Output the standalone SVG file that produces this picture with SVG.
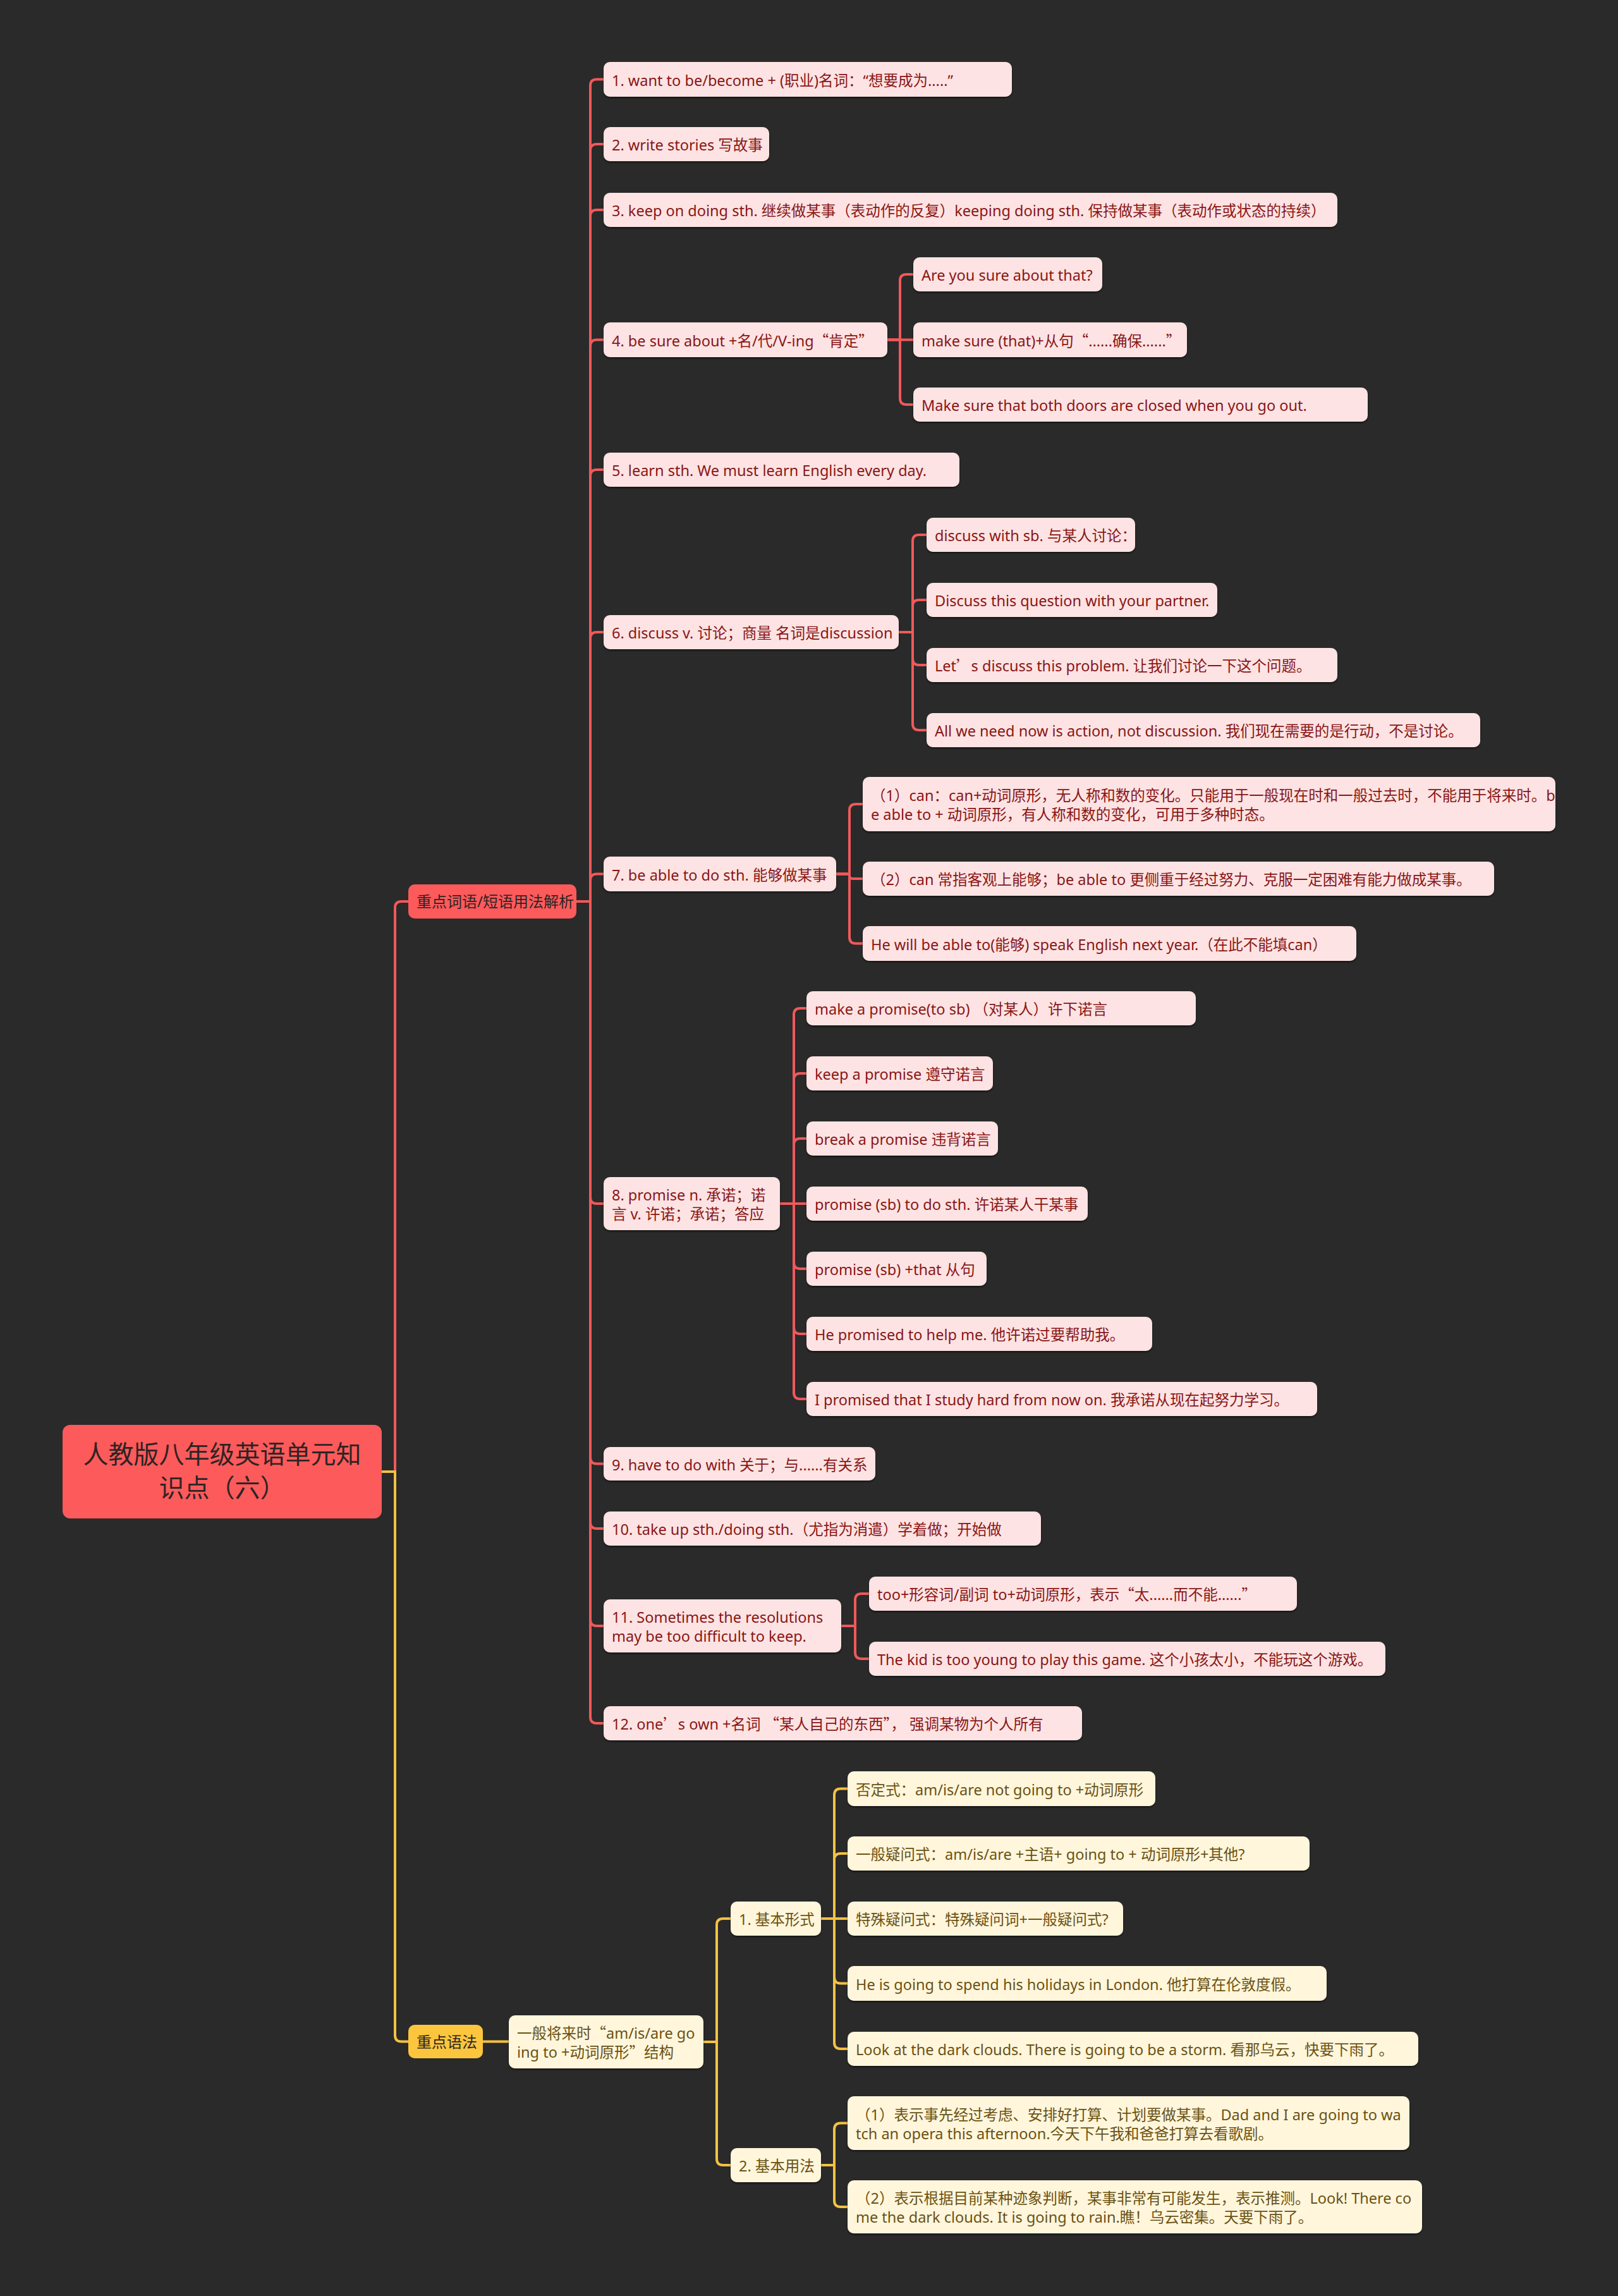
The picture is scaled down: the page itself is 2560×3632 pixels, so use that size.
<svg xmlns="http://www.w3.org/2000/svg" width="2560" height="3632" viewBox="0 0 2560 3632">
<defs>
<filter id="sh" x="-5%" y="-20%" width="110%" height="150%">
<feDropShadow dx="0" dy="2" stdDeviation="1.5" flood-color="#000" flood-opacity="0.55"/>
</filter>
<style>
text{font-family:"Noto Sans","Noto Sans CJK SC",sans-serif;}
.q{font-family:"Noto Sans CJK SC",sans-serif;}
.pn{fill:#fde3e3;filter:url(#sh);}
.pt{fill:#8a1616;font-size:23.5px;}
.yn{fill:#fff6dc;filter:url(#sh);}
.yt{fill:#6b5212;font-size:23.5px;}
.rn{fill:#fd5a5b;}
.bn{fill:#fbc63d;}
.bt{fill:#2d2424;font-size:24px;}
.rl{fill:none;stroke:#f0595b;stroke-width:4;}
.yl{fill:none;stroke:#f4c242;stroke-width:4;}
</style>
</defs>
<rect x="0" y="0" width="2560" height="3632" fill="#2a2a2a"/>

<g id="connectors">
<g class="rl">
<path d="M604 2328 H625 V1436 Q625 1426 635 1426 H646"/>
<path d="M912 1426 H934 V135.5 Q934 125.5 944 125.5 H955"/>
<path d="M912 1426 H934 V238 Q934 228 944 228 H955"/>
<path d="M912 1426 H934 V342 Q934 332 944 332 H955"/>
<path d="M912 1426 H934 V547.5 Q934 537.5 944 537.5 H955"/>
<path d="M912 1426 H934 V753 Q934 743 944 743 H955"/>
<path d="M912 1426 H934 V1010 Q934 1000 944 1000 H955"/>
<path d="M912 1426 H934 V1392.5 Q934 1382.5 944 1382.5 H955"/>
<path d="M912 1426 H934 V1894 Q934 1904 944 1904 H955"/>
<path d="M912 1426 H934 V2305.5 Q934 2315.5 944 2315.5 H955"/>
<path d="M912 1426 H934 V2408 Q934 2418 944 2418 H955"/>
<path d="M912 1426 H934 V2562 Q934 2572 944 2572 H955"/>
<path d="M912 1426 H934 V2716 Q934 2726 944 2726 H955"/>
<path d="M1404 537.5 H1424 V444 Q1424 434 1434 434 H1445"/>
<path d="M1404 537.5 H1445"/>
<path d="M1404 537.5 H1424 V630 Q1424 640 1434 640 H1445"/>
<path d="M1422 1000 H1444 V856 Q1444 846 1454 846 H1466"/>
<path d="M1422 1000 H1444 V959 Q1444 949 1454 949 H1466"/>
<path d="M1422 1000 H1444 V1042 Q1444 1052 1454 1052 H1466"/>
<path d="M1422 1000 H1444 V1145 Q1444 1155 1454 1155 H1466"/>
<path d="M1323 1382.5 H1344 V1282 Q1344 1272 1354 1272 H1365"/>
<path d="M1323 1382.5 H1344 V1385 Q1344 1390 1349 1390 H1365"/>
<path d="M1323 1382.5 H1344 V1482.5 Q1344 1492.5 1354 1492.5 H1365"/>
<path d="M1234 1904 H1256 V1605 Q1256 1595 1266 1595 H1276"/>
<path d="M1234 1904 H1256 V1708 Q1256 1698 1266 1698 H1276"/>
<path d="M1234 1904 H1256 V1811 Q1256 1801 1266 1801 H1276"/>
<path d="M1234 1904 H1276"/>
<path d="M1234 1904 H1256 V1997 Q1256 2007 1266 2007 H1276"/>
<path d="M1234 1904 H1256 V2100 Q1256 2110 1266 2110 H1276"/>
<path d="M1234 1904 H1256 V2203 Q1256 2213 1266 2213 H1276"/>
<path d="M1331 2572 H1353 V2531 Q1353 2521 1363 2521 H1375"/>
<path d="M1331 2572 H1353 V2614 Q1353 2624 1363 2624 H1375"/>
</g>
<g class="yl">
<path d="M604 2328 H625 V3219.5 Q625 3229.5 635 3229.5 H646"/>
<path d="M764 3229.5 H805"/>
<path d="M1113 3230 H1134 V3045 Q1134 3035 1144 3035 H1156"/>
<path d="M1113 3230 H1134 V3415 Q1134 3425 1144 3425 H1156"/>
<path d="M1299 3035 H1320 V2839.5 Q1320 2829.5 1330 2829.5 H1341"/>
<path d="M1299 3035 H1320 V2942 Q1320 2932 1330 2932 H1341"/>
<path d="M1299 3035 H1341"/>
<path d="M1299 3035 H1320 V3127.5 Q1320 3137.5 1330 3137.5 H1341"/>
<path d="M1299 3035 H1320 V3231 Q1320 3241 1330 3241 H1341"/>
<path d="M1299 3425 H1320 V3368.5 Q1320 3358.5 1330 3358.5 H1341"/>
<path d="M1299 3425 H1320 V3481 Q1320 3491 1330 3491 H1341"/>
</g>
</g>

<g id="root">
<rect class="rn" x="99" y="2254" width="505" height="148" rx="12"/>
<text x="351.5" y="2315" text-anchor="middle" font-size="40" fill="#2d2424">人教版八年级英语单元知</text>
<text x="351.5" y="2368" text-anchor="middle" font-size="40" fill="#2d2424">识点（六）</text>
</g>

<g id="branch-1">
<rect class="rn" x="646" y="1399" width="266" height="54" rx="10"/>
<text class="bt" x="659" y="1435">重点词语/短语用法解析</text>
</g>
<g id="branch-2">
<rect class="bn" x="646" y="3203" width="118" height="53" rx="10"/>
<text class="bt" x="659" y="3238.5">重点语法</text>
</g>

<g id="n1"><rect class="pn" x="955" y="98" width="646" height="55" rx="10"/><text class="pt" x="968" y="135.5">1. want to be/become + (职业)名词：“想要成为.....”</text></g>
<g id="n2"><rect class="pn" x="955" y="201" width="262" height="54" rx="10"/><text class="pt" x="968" y="238">2. write stories 写故事</text></g>
<g id="n3"><rect class="pn" x="955" y="305" width="1161" height="54" rx="10"/><text class="pt" x="968" y="342">3. keep on doing sth. 继续做某事（表动作的反复）keeping doing sth. 保持做某事（表动作或状态的持续）</text></g>
<g id="n4"><rect class="pn" x="955" y="510" width="449" height="55" rx="10"/><text class="pt" x="968" y="547.5">4. be sure about +名/代/V-ing<tspan class="q">“</tspan>肯定<tspan class="q">”</tspan></text></g>
<g id="n4a"><rect class="pn" x="1445" y="407" width="299" height="54" rx="10"/><text class="pt" x="1458" y="444">Are you sure about that?</text></g>
<g id="n4b"><rect class="pn" x="1445" y="510" width="433" height="55" rx="10"/><text class="pt" x="1458" y="547.5">make sure (that)+从句<tspan class="q">“</tspan>......确保......<tspan class="q">”</tspan></text></g>
<g id="n4c"><rect class="pn" x="1445" y="613" width="719" height="54" rx="10"/><text class="pt" x="1458" y="650">Make sure that both doors are closed when you go out.</text></g>
<g id="n5"><rect class="pn" x="955" y="716" width="563" height="54" rx="10"/><text class="pt" x="968" y="753">5. learn sth. We must learn English every day.</text></g>
<g id="n6"><rect class="pn" x="955" y="973" width="467" height="54" rx="10"/><text class="pt" x="968" y="1010">6. discuss v. 讨论；商量 名词是discussion</text></g>
<g id="n6a"><rect class="pn" x="1466" y="819" width="330" height="54" rx="10"/><text class="pt" x="1479" y="856">discuss with sb. 与某人讨论：</text></g>
<g id="n6b"><rect class="pn" x="1466" y="922" width="460" height="54" rx="10"/><text class="pt" x="1479" y="959">Discuss this question with your partner.</text></g>
<g id="n6c"><rect class="pn" x="1466" y="1025" width="650" height="54" rx="10"/><text class="pt" x="1479" y="1062">Let<tspan class="q">’</tspan>s discuss this problem. 让我们讨论一下这个问题。</text></g>
<g id="n6d"><rect class="pn" x="1466" y="1128" width="876" height="54" rx="10"/><text class="pt" x="1479" y="1165">All we need now is action, not discussion. 我们现在需要的是行动，不是讨论。</text></g>
<g id="n7"><rect class="pn" x="955" y="1355" width="368" height="55" rx="10"/><text class="pt" x="968" y="1392.5">7. be able to do sth. 能够做某事</text></g>
<g id="n7a"><rect class="pn" x="1365" y="1229" width="1096" height="86" rx="10"/><text class="pt" x="1378" y="1267">（1）can：can+动词原形，无人称和数的变化。只能用于一般现在时和一般过去时，不能用于将来时。b</text><text class="pt" x="1378" y="1297">e able to + 动词原形，有人称和数的变化，可用于多种时态。</text></g>
<g id="n7b"><rect class="pn" x="1365" y="1363" width="999" height="54" rx="10"/><text class="pt" x="1378" y="1400">（2）can 常指客观上能够；be able to 更侧重于经过努力、克服一定困难有能力做成某事。</text></g>
<g id="n7c"><rect class="pn" x="1365" y="1465" width="781" height="55" rx="10"/><text class="pt" x="1378" y="1502.5">He will be able to(能够) speak English next year.（在此不能填can）</text></g>
<g id="n8"><rect class="pn" x="955" y="1862" width="279" height="84" rx="10"/><text class="pt" x="968" y="1899">8. promise n. 承诺；诺</text><text class="pt" x="968" y="1929">言 v. 许诺；承诺；答应</text></g>
<g id="n8a"><rect class="pn" x="1276" y="1568" width="616" height="54" rx="10"/><text class="pt" x="1289" y="1605">make a promise(to sb) （对某人）许下诺言</text></g>
<g id="n8b"><rect class="pn" x="1276" y="1671" width="295" height="54" rx="10"/><text class="pt" x="1289" y="1708">keep a promise 遵守诺言</text></g>
<g id="n8c"><rect class="pn" x="1276" y="1774" width="303" height="54" rx="10"/><text class="pt" x="1289" y="1811">break a promise 违背诺言</text></g>
<g id="n8d"><rect class="pn" x="1276" y="1877" width="445" height="54" rx="10"/><text class="pt" x="1289" y="1914">promise (sb) to do sth. 许诺某人干某事</text></g>
<g id="n8e"><rect class="pn" x="1276" y="1980" width="285" height="54" rx="10"/><text class="pt" x="1289" y="2017">promise (sb) +that 从句</text></g>
<g id="n8f"><rect class="pn" x="1276" y="2083" width="547" height="54" rx="10"/><text class="pt" x="1289" y="2120">He promised to help me. 他许诺过要帮助我。</text></g>
<g id="n8g"><rect class="pn" x="1276" y="2186" width="808" height="54" rx="10"/><text class="pt" x="1289" y="2223">I promised that I study hard from now on. 我承诺从现在起努力学习。</text></g>
<g id="n9"><rect class="pn" x="955" y="2289" width="430" height="53" rx="10"/><text class="pt" x="968" y="2325.5">9. have to do with 关于；与......有关系</text></g>
<g id="n10"><rect class="pn" x="955" y="2391" width="692" height="54" rx="10"/><text class="pt" x="968" y="2428">10. take up sth./doing sth.（尤指为消遣）学着做；开始做</text></g>
<g id="n11"><rect class="pn" x="955" y="2530" width="376" height="84" rx="10"/><text class="pt" x="968" y="2567">11. Sometimes the resolutions</text><text class="pt" x="968" y="2597">may be too difficult to keep.</text></g>
<g id="n11a"><rect class="pn" x="1375" y="2494" width="677" height="54" rx="10"/><text class="pt" x="1388" y="2531">too+形容词/副词 to+动词原形，表示<tspan class="q">“</tspan>太......而不能......<tspan class="q">”</tspan></text></g>
<g id="n11b"><rect class="pn" x="1375" y="2597" width="817" height="54" rx="10"/><text class="pt" x="1388" y="2634">The kid is too young to play this game. 这个小孩太小，不能玩这个游戏。</text></g>
<g id="n12"><rect class="pn" x="955" y="2699" width="757" height="54" rx="10"/><text class="pt" x="968" y="2736">12. one<tspan class="q">’</tspan>s own +名词 <tspan class="q">“</tspan>某人自己的东西<tspan class="q">”</tspan>， 强调某物为个人所有</text></g>

<g id="y0"><rect class="yn" x="805" y="3188" width="308" height="84" rx="10"/><text class="yt" x="818" y="3225">一般将来时<tspan class="q">“</tspan>am/is/are go</text><text class="yt" x="818" y="3255">ing to +动词原形<tspan class="q">”</tspan>结构</text></g>
<g id="y1"><rect class="yn" x="1156" y="3008" width="143" height="54" rx="10"/><text class="yt" x="1169" y="3045">1. 基本形式</text></g>
<g id="y1a"><rect class="yn" x="1341" y="2802" width="487" height="55" rx="10"/><text class="yt" x="1354" y="2839.5">否定式：am/is/are not going to +动词原形</text></g>
<g id="y1b"><rect class="yn" x="1341" y="2905" width="731" height="54" rx="10"/><text class="yt" x="1354" y="2942">一般疑问式：am/is/are +主语+ going to + 动词原形+其他?</text></g>
<g id="y1c"><rect class="yn" x="1341" y="3008" width="436" height="54" rx="10"/><text class="yt" x="1354" y="3045">特殊疑问式：特殊疑问词+一般疑问式?</text></g>
<g id="y1d"><rect class="yn" x="1341" y="3110" width="758" height="55" rx="10"/><text class="yt" x="1354" y="3147.5">He is going to spend his holidays in London. 他打算在伦敦度假。</text></g>
<g id="y1e"><rect class="yn" x="1341" y="3214" width="903" height="54" rx="10"/><text class="yt" x="1354" y="3251">Look at the dark clouds. There is going to be a storm. 看那乌云，快要下雨了。</text></g>
<g id="y2"><rect class="yn" x="1156" y="3398" width="143" height="54" rx="10"/><text class="yt" x="1169" y="3435">2. 基本用法</text></g>
<g id="y2a"><rect class="yn" x="1341" y="3316" width="889" height="85" rx="10"/><text class="yt" x="1354" y="3353.5">（1）表示事先经过考虑、安排好打算、计划要做某事。Dad and I are going to wa</text><text class="yt" x="1354" y="3383.5">tch an opera this afternoon.今天下午我和爸爸打算去看歌剧。</text></g>
<g id="y2b"><rect class="yn" x="1341" y="3449" width="909" height="84" rx="10"/><text class="yt" x="1354" y="3486">（2）表示根据目前某种迹象判断，某事非常有可能发生，表示推测。Look! There co</text><text class="yt" x="1354" y="3516">me the dark clouds. It is going to rain.瞧！乌云密集。天要下雨了。</text></g>
</svg>
